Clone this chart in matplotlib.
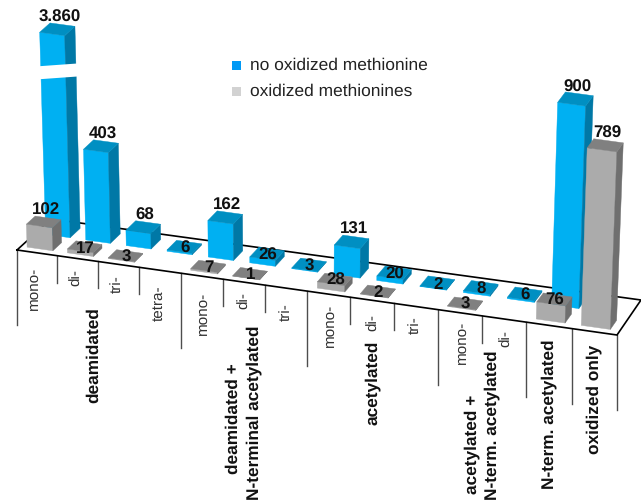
import matplotlib
matplotlib.use("Agg")
import matplotlib.pyplot as plt

plt.rcParams['font.family'] = ['Liberation Sans', 'DejaVu Sans']
plt.rcParams['text.hinting'] = 'none'

# Peptide counts per category; None means no bar in that row
sub_labels = ["mono-", "di-", "tri-", "tetra-", "mono-", "di-", "tri-",
              "mono-", "di-", "tri-", "mono-", "di-"]
no_oxidation = [3860, 403, 68, 6, 162, 26, 3, 131, 20, 2, 8, 6, 900, None]
oxidized = [102, 17, 3, None, 7, 1, None, 28, 2, None, 3, None, 76, 789]
value_text = {3860: "3.860"}
group_lines = ["deamidated", "deamidated +", "N-terminal acetylated", "acetylated",
               "acetylated +", "N-term. acetylated", "N-term. acetylated", "oxidized only"]
group_sizes = [4, 3, 3, 2, 1, 1]
legend_names = ["no oxidized methionine", "oxidized methionines"]

# Layout of the sloped floor, in figure pixels
FRONT_LEFT, FRONT_RIGHT = (17, 250), (617, 335)
BACK_LEFT, BACK_RIGHT = (51, 219), (641, 300)
N_CELLS = 14
WARP = 1.066
PX_PER_UNIT = 0.225
BREAK_ABOVE = 1000
BREAK_SPAN = 2962          # units removed by the break in the tallest bar
VANISH_X, VANISH_DIST = 298, 8500

BLUE = ("#00B0F2", "#008FC2", "#0078A6")
GREY = ("#ABABAB", "#808080", "#6F6F6F")
LEGEND_COLORS = ["#0099F5", "#D2D2D2"]
TEXT = "#111111"

fig = plt.figure(figsize=(6.41, 5.01), dpi=100)
ax = fig.add_axes([0, 0, 1, 1])
ax.set_xlim(0, 641)
ax.set_ylim(501, 0)
ax.axis("off")


def bar_px(value):
    """Screen height of a bar, with the broken span cut out of very tall ones."""
    if value > BREAK_ABOVE:
        value = value - BREAK_SPAN
    return value * PX_PER_UNIT


def project(u, d, h=0.0):
    """Map category position u, depth d (0 front, 1 back) and pixel height h to the screen."""
    t = u / N_CELLS
    f = t / (t + WARP * (1 - t)) if u > 0 else 0.0
    fx = FRONT_LEFT[0] + (FRONT_RIGHT[0] - FRONT_LEFT[0]) * f
    fy = FRONT_LEFT[1] + (FRONT_RIGHT[1] - FRONT_LEFT[1]) * f
    bx = BACK_LEFT[0] + (BACK_RIGHT[0] - BACK_LEFT[0]) * f
    by = BACK_LEFT[1] + (BACK_RIGHT[1] - BACK_LEFT[1]) * f
    x = fx + (bx - fx) * d
    y = fy + (by - fy) * d
    return x + (x - VANISH_X) * h / VANISH_DIST, y - h


def draw_bar(cell, value, u_span, d_span, colors):
    u0, u1 = cell + u_span[0], cell + u_span[1]
    d0, d1 = d_span
    h = bar_px(value)
    faces = [
        ([(u0, d0, 0), (u1, d0, 0), (u1, d0, h), (u0, d0, h)], colors[0]),
        ([(u1, d0, 0), (u1, d1, 0), (u1, d1, h), (u1, d0, h)], colors[2]),
        ([(u0, d0, h), (u1, d0, h), (u1, d1, h), (u0, d1, h)], colors[1]),
    ]
    for corners, color in faces:
        pts = [project(*c) for c in corners]
        ax.fill(*zip(*pts), facecolor=color, edgecolor=color, linewidth=0.3, zorder=3)


def draw_value(cell, value, u_span, d_span, raised_from):
    um, dm = cell + sum(u_span) / 2, sum(d_span) / 2
    x, y = project(um, dm, bar_px(value))
    raised = value >= raised_from
    ax.text(x + (2 if raised else 0.5), y + (-12 if raised else 1.5), value_text.get(value, str(value)),
            ha="center", va="center", fontsize=12.2, fontweight="bold", color=TEXT, zorder=6)


# Floor outline
floor = [FRONT_LEFT, FRONT_RIGHT, BACK_RIGHT, BACK_LEFT, FRONT_LEFT]
ax.plot(*zip(*floor), color="black", lw=1.2, zorder=2, solid_joinstyle="miter")

# Dividers under the front edge: long ones open a group
group_starts = {0, N_CELLS}
start = 0
for size in group_sizes:
    start += size
    group_starts.add(start)
for i in range(N_CELLS + 1):
    x, y = project(i, 0)
    ax.plot([x, x], [y, y + (75 if i in group_starts else 27)], color="#4D4D4D", lw=1.0, zorder=1)

# Back row first, then front row, so nearer bars cover farther ones
BLUE_U, BLUE_D = (0.25, 0.86), (0.55, 0.85)
GREY_U, GREY_D = (0.15, 0.79), (0.12, 0.38)
for cell, value in enumerate(no_oxidation):
    if value is not None:
        draw_bar(cell, value, BLUE_U, BLUE_D, BLUE)
for cell, value in enumerate(oxidized):
    if value is not None:
        draw_bar(cell, value, GREY_U, GREY_D, GREY)

# White slash across the broken bar
left_low = project(BLUE_U[0], BLUE_D[0], 155)
left_high = project(BLUE_U[0], BLUE_D[0], 168)
right_low = project(BLUE_U[1], BLUE_D[1], 152)
right_high = project(BLUE_U[1], BLUE_D[1], 165)
ax.fill([left_low[0] - 3, right_low[0] + 3, right_high[0] + 3, left_high[0] - 3],
        [left_low[1], right_low[1], right_high[1], left_high[1]],
        facecolor="white", edgecolor="none", zorder=4)

for cell, value in enumerate(no_oxidation):
    if value is not None:
        draw_value(cell, value, BLUE_U, BLUE_D, 60)
for cell, value in enumerate(oxidized):
    if value is not None:
        draw_value(cell, value, GREY_U, GREY_D, 100)

# Rotated labels under the floor
sub_x = [34, 76, 118, 159, 203, 244, 287, 330, 373, 416, 462, 506]
sub_top = [267, 269, 275, 285, 292, 292, 303, 304, 314, 316, 321, 330]
for name, x, top in zip(sub_labels, sub_x, sub_top):
    ax.text(x, top, name, rotation=90, ha="center", va="top", fontsize=11, color="#333333")

group_x = [94, 233, 254, 373, 472, 492, 549, 594]
group_y = [355, 419, 412.5, 383, 444.5, 425, 414, 399]
for name, x, y in zip(group_lines, group_x, group_y):
    ax.text(x, y, name, rotation=90, ha="center", va="center",
            fontsize=12.4, fontweight="bold", color=TEXT)

# Legend
legend_y = [65, 91]
for name, color, y in zip(legend_names, LEGEND_COLORS, legend_y):
    ax.fill([231.5, 240.5, 240.5, 231.5], [y - 4, y - 4, y + 5, y + 5], facecolor=color, edgecolor="none")
    ax.text(250, y, name, ha="left", va="center", fontsize=12.5, color="#222222")

fig.savefig("out.png", dpi=100)
